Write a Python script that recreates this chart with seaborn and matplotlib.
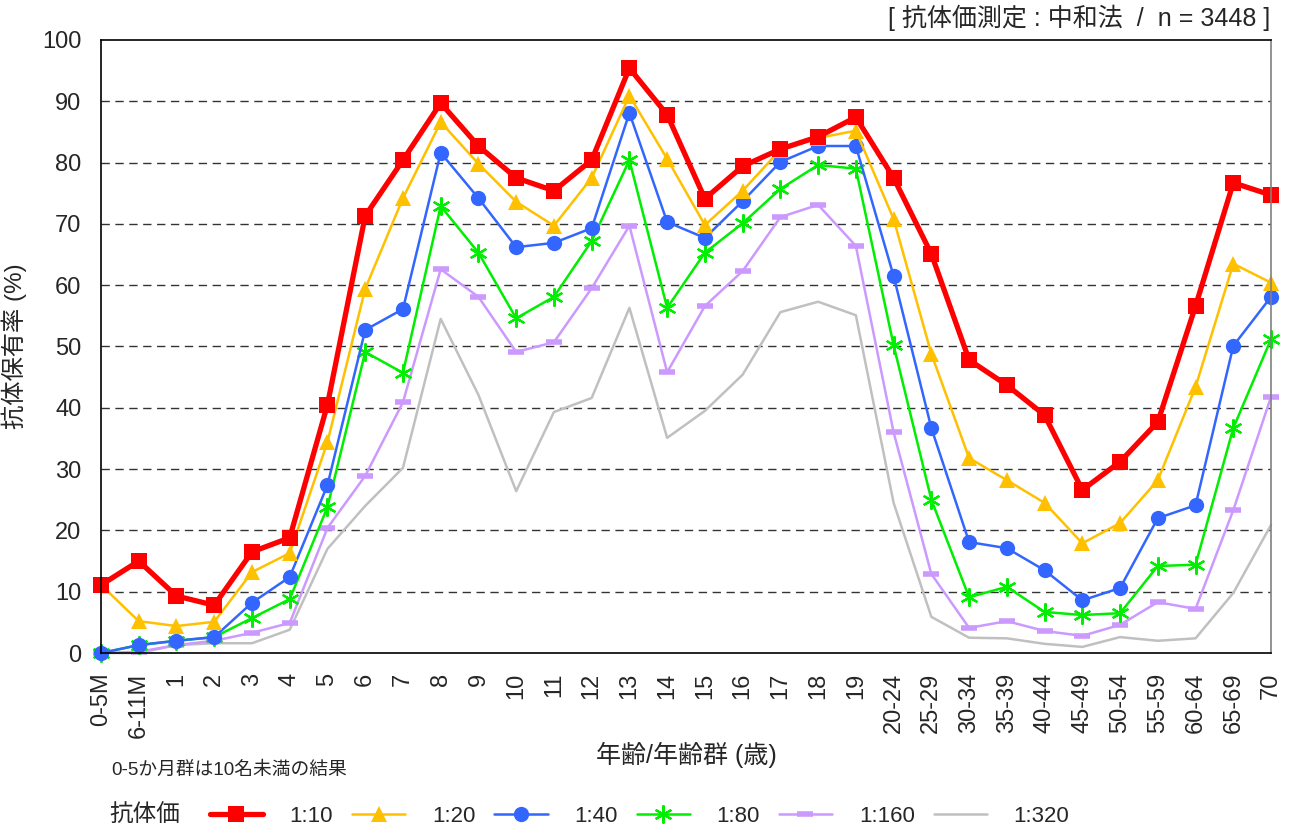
import matplotlib
matplotlib.use('Agg')

import pandas as pd
import matplotlib.pyplot as plt
import seaborn as sns

# === Data ===
age_groups = ["0-5M", "6-11M", "1", "2", "3", "4", "5", "6", "7", "8", "9", "10",
              "11", "12", "13", "14", "15", "16", "17", "18", "19",
              "20-24", "25-29", "30-34", "35-39", "40-44", "45-49", "50-54",
              "55-59", "60-64", "65-69", "70"]

titer_10 = [11.1, 15.0, 9.3, 7.8, 16.5, 18.8, 40.5, 71.3, 80.4, 89.7, 82.7, 77.5,
            75.4, 80.4, 95.4, 87.8, 74.1, 79.4, 82.2, 84.2, 87.4,
            77.5, 65.1, 47.8, 43.7, 38.8, 26.6, 31.2, 37.7, 56.6, 76.7, 74.7]
titer_20 = [11.1, 5.2, 4.4, 5.1, 13.2, 16.3, 34.4, 59.4, 74.2, 86.6, 79.8, 73.6,
            69.7, 77.5, 90.9, 80.6, 69.8, 75.4, 82.1, 84.0, 85.2,
            70.8, 48.8, 31.8, 28.2, 24.5, 17.9, 21.2, 28.2, 43.4, 63.5, 60.4]
titer_40 = [0.0, 1.3, 2.0, 2.6, 8.2, 12.4, 27.4, 52.7, 56.1, 81.6, 74.2, 66.2,
            66.9, 69.3, 88.1, 70.3, 67.7, 73.7, 80.1, 82.7, 82.7,
            61.5, 36.7, 18.1, 17.1, 13.5, 8.6, 10.6, 22.0, 24.1, 50.1, 58.1]
titer_80 = [0.0, 1.3, 2.0, 2.6, 5.7, 8.8, 23.8, 49.1, 45.7, 72.9, 65.3, 54.6,
            58.1, 67.2, 80.4, 56.3, 65.3, 70.1, 75.7, 79.6, 79.0,
            50.2, 25.0, 9.1, 10.8, 6.7, 6.2, 6.5, 14.2, 14.4, 36.7, 51.2]
titer_160 = [0.0, 0.2, 1.3, 2.0, 3.3, 4.9, 20.4, 28.9, 40.9, 62.6, 58.1, 49.1,
             50.7, 59.5, 69.7, 45.8, 56.6, 62.3, 71.1, 73.1, 66.4,
             36.0, 12.9, 4.1, 5.2, 3.6, 2.8, 4.6, 8.3, 7.2, 23.3, 41.8]
titer_320 = [0.0, 0.0, 1.3, 1.6, 1.6, 3.8, 17.0, 24.0, 30.2, 54.5, 42.1, 26.4,
             39.3, 41.6, 56.3, 35.1, 39.5, 45.4, 55.6, 57.3, 55.1,
             24.5, 5.9, 2.5, 2.4, 1.5, 1.0, 2.6, 2.0, 2.4, 9.8, 20.9]

series_labels = ["1:10", "1:20", "1:40", "1:80", "1:160", "1:320"]
series_values = [titer_10, titer_20, titer_40, titer_80, titer_160, titer_320]

# === Styles per series ===
styles = [
    dict(color="#ff0000", marker="s", linewidth=3.8, markersize=11, markeredgewidth=0),
    dict(color="#ffc000", marker="^", linewidth=1.8, markersize=11, markeredgewidth=0),
    dict(color="#3366ff", marker="o", linewidth=1.8, markersize=11, markeredgewidth=0),
    dict(color="#00ee00", marker=(6, 2, 0), linewidth=1.8, markersize=13, markeredgewidth=1.6),
    dict(color="#cc99ff", marker="_", linewidth=1.8, markersize=12, markeredgewidth=4),
    dict(color="#c0c0c0", marker=None, linewidth=1.8, markersize=0, markeredgewidth=0),
]

sns.set_style("white")
plt.rcParams['font.family'] = ['Liberation Sans', 'Noto Sans CJK JP', 'DejaVu Sans']

fig = plt.figure(figsize=(12.9, 8.32), dpi=100)
ax = fig.add_axes([0.0783, 0.2151, 0.9070, 0.7369])

pos = list(range(len(age_groups)))
# draw from back to front
for label, vals, st in reversed(list(zip(series_labels, series_values, styles))):
    df = pd.DataFrame({"x": pos, "y": vals})
    sns.lineplot(data=df, x="x", y="y", ax=ax, label=label, color=st["color"],
                 marker=st["marker"], linewidth=st["linewidth"],
                 markersize=st["markersize"], markeredgewidth=st["markeredgewidth"],
                 markeredgecolor=st["color"], clip_on=False)

ax.set_xlim(0, len(age_groups) - 1)
ax.set_ylim(0, 100)
ax.set_yticks(range(0, 101, 10))
ax.set_xticks(pos)
ax.set_xticklabels(age_groups, rotation=90, fontsize=17)
ax.tick_params(axis='y', labelsize=17, length=0, pad=14)
ax.tick_params(axis='x', length=0, pad=14)
for y in range(10, 100, 10):
    ax.axhline(y, color="#333333", linestyle=(0, (6, 4)), linewidth=1, zorder=0)

for side in ["left", "bottom", "top"]:
    ax.spines[side].set_color("black")
    ax.spines[side].set_linewidth(1.2)
ax.spines["right"].set_color("#808080")
ax.spines["right"].set_linewidth(1.2)

ax.set_xlabel("年齢/年齢群 (歳)", fontsize=18, labelpad=0)
ax.xaxis.set_label_coords(0.5, -0.145)
ax.set_ylabel("抗体保有率 (%)", fontsize=17.5, labelpad=10)
ax.yaxis.set_label_coords(-0.063, 0.5)

fig.text(0.985, 0.978, "[ 抗体価測定 : 中和法  /  n = 3448 ]", ha="right", va="center", fontsize=18)
fig.text(0.086, 0.074, "0-5か月群は10名未満の結果", ha="left", va="center", fontsize=13.5)

# legend in original order
handles, labels = ax.get_legend_handles_labels()
order = [labels.index(l) for l in series_labels]
ax.get_legend().remove()
fig.text(0.085, 0.019, "抗体価", ha="left", va="center", fontsize=17)
fig.legend([handles[i] for i in order], [labels[i] for i in order],
           loc="center left", bbox_to_anchor=(0.147, 0.019), ncol=6, frameon=False,
           fontsize=16, handlelength=2.4, handletextpad=1.2, columnspacing=0.85)

plt.savefig("out.png", dpi=100)
plt.close()
